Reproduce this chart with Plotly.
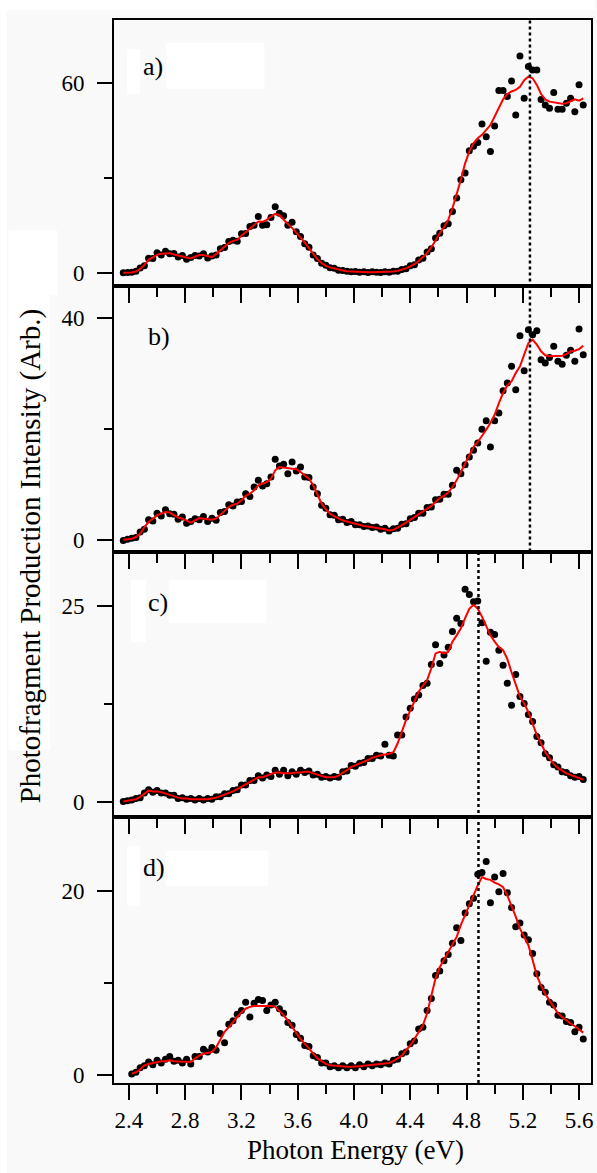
import plotly.graph_objects as go
from plotly.subplots import make_subplots

# ---------------- data ----------------
energy = [2.36, 2.39, 2.42, 2.45, 2.48, 2.51, 2.54, 2.57, 2.60, 2.63,
          2.66, 2.69, 2.72, 2.75, 2.78, 2.81, 2.84, 2.87, 2.90, 2.93,
          2.96, 2.99, 3.02, 3.05, 3.08, 3.11, 3.14, 3.17, 3.20, 3.23,
          3.26, 3.29, 3.32, 3.35, 3.38, 3.41, 3.44, 3.47, 3.50, 3.53,
          3.56, 3.59, 3.62, 3.65, 3.68, 3.71, 3.74, 3.77, 3.80, 3.83,
          3.86, 3.89, 3.92, 3.95, 3.98, 4.01, 4.04, 4.07, 4.10, 4.13,
          4.16, 4.19, 4.22, 4.25, 4.28, 4.31, 4.34, 4.37, 4.40, 4.43,
          4.46, 4.49, 4.52, 4.55, 4.58, 4.61, 4.64, 4.67, 4.70, 4.73,
          4.76, 4.79, 4.82, 4.85, 4.88, 4.91, 4.94, 4.97, 5.00, 5.03,
          5.06, 5.09, 5.12, 5.15, 5.18, 5.21, 5.24, 5.27, 5.30, 5.33,
          5.36, 5.39, 5.42, 5.45, 5.48, 5.51, 5.54, 5.57, 5.60, 5.63]

a_fit = [0.0, 0.0, 0.1, 0.4, 1.2, 2.5, 4.1, 4.9, 5.7, 6.0,
         6.2, 6.2, 5.8, 5.4, 5.1, 4.8, 4.5, 5.1, 5.6, 5.6,
         5.2, 4.9, 5.9, 7.1, 8.3, 9.4, 10.1, 10.4, 11.7, 12.9,
         14.0, 15.2, 16.2, 16.1, 16.7, 17.8, 18.6, 18.2, 16.7, 15.4,
         14.2, 12.7, 11.2, 9.6, 7.8, 5.9, 4.3, 3.1, 2.2, 1.7,
         1.3, 0.9, 0.7, 0.5, 0.4, 0.3, 0.3, 0.2, 0.2, 0.2,
         0.2, 0.2, 0.2, 0.3, 0.4, 0.6, 0.9, 1.4, 2.0, 2.7,
         3.7, 4.8, 6.2, 8.0, 10.4, 12.5, 14.4, 16.7, 20.4, 24.6,
         29.4, 34.6, 38.3, 40.9, 42.5, 43.6, 45.2, 46.7, 49.4, 52.3,
         54.8, 56.5, 57.3, 57.8, 58.8, 60.9, 62.0, 61.5, 59.4, 56.5,
         54.8, 54.1, 53.8, 53.6, 53.4, 53.6, 54.1, 54.8, 54.4, 55.1]
a_pts = [0.0, 0.1, 0.2, 0.5, 1.5, 2.2, 4.6, 4.5, 6.3, 5.6,
         6.8, 6.0, 6.1, 5.0, 5.5, 4.3, 4.8, 5.5, 5.3, 6.0,
         4.7, 5.3, 5.6, 7.6, 8.0, 9.9, 10.3, 10.0, 12.3, 12.4,
         14.6, 15.0, 17.8, 15.0, 15.2, 17.5, 20.9, 18.8, 18.0, 15.0,
         16.0, 13.0, 11.5, 9.2, 8.1, 5.6, 4.5, 3.0, 2.4, 1.6,
         1.4, 0.8, 0.7, 0.5, 0.3, 0.4, 0.2, 0.3, 0.1, 0.3,
         0.2, 0.1, 0.3, 0.2, 0.5, 0.5, 1.0, 1.3, 2.2, 2.5,
         4.0, 4.6, 6.6, 7.6, 11.0, 12.5, 14.9, 15.5, 19.4, 23.6,
         29.4, 31.5, 38.6, 40.0, 41.2, 47.0, 43.0, 38.3, 46.4, 57.6,
         57.6, 55.7, 60.6, 49.9, 68.5, 55.2, 65.2, 64.1, 64.1, 54.8,
         53.0, 52.0, 57.0, 51.7, 51.7, 53.6, 55.2, 50.9, 59.4, 53.0]

b_fit = [0.1, 0.2, 0.3, 0.6, 1.2, 2.4, 3.3, 3.9, 4.5, 4.8,
         5.1, 5.0, 4.5, 4.1, 3.9, 3.5, 3.2, 3.6, 4.0, 3.9,
         3.8, 3.7, 3.9, 4.6, 5.4, 6.0, 6.4, 6.6, 7.2, 8.0,
         8.4, 9.0, 9.9, 10.2, 10.5, 11.1, 12.6, 13.2, 13.1, 12.9,
         12.9, 12.8, 12.3, 11.7, 11.1, 9.9, 8.2, 6.6, 5.6, 4.8,
         4.3, 3.9, 3.6, 3.4, 3.2, 2.9, 2.7, 2.6, 2.5, 2.4,
         2.3, 2.1, 2.0, 1.8, 1.9, 2.3, 2.7, 3.2, 3.7, 4.2,
         4.6, 5.1, 5.6, 6.2, 6.9, 7.6, 8.0, 8.6, 9.6, 10.8,
         12.3, 13.8, 15.3, 16.8, 17.7, 18.7, 19.9, 21.1, 22.6, 24.7,
         26.5, 27.9, 28.6, 30.1, 31.3, 33.4, 35.5, 36.1, 35.2, 34.0,
         33.3, 33.1, 33.1, 33.1, 33.2, 33.5, 34.0, 34.1, 34.4, 35.0]
b_pts = [0.0, 0.2, 0.4, 0.5, 1.5, 2.0, 3.7, 3.5, 4.9, 4.4,
         5.5, 4.8, 4.7, 3.8, 4.2, 3.1, 3.4, 3.9, 3.7, 4.3,
         3.4, 4.0, 3.6, 5.0, 5.2, 6.4, 6.2, 6.9, 7.0, 8.4,
         7.9, 9.6, 10.8, 9.8, 10.2, 11.4, 14.6, 13.4, 13.7, 12.0,
         14.1, 12.5, 13.2, 11.4, 11.3, 9.6, 8.4, 6.3, 5.8, 4.6,
         4.5, 3.7, 3.8, 3.2, 3.4, 2.8, 2.8, 2.5, 2.6, 2.3,
         2.4, 2.0, 2.2, 1.7, 2.1, 2.2, 2.9, 3.0, 3.9, 4.1,
         4.9, 4.9, 5.9, 6.0, 7.3, 7.4, 8.3, 8.3, 9.9, 12.6,
         12.0, 13.6, 15.0, 16.2, 17.5, 20.0, 21.5, 16.8, 21.5, 22.9,
         26.9, 28.3, 31.3, 27.1, 36.8, 30.5, 37.9, 37.0, 37.7, 32.5,
         31.9, 32.9, 34.9, 32.2, 31.7, 33.3, 34.2, 32.2, 38.0, 33.4]

c_fit = [0.1, 0.2, 0.3, 0.4, 0.7, 1.1, 1.5, 1.4, 1.4, 1.3,
         1.1, 1.0, 0.8, 0.6, 0.5, 0.5, 0.4, 0.4, 0.4, 0.4,
         0.4, 0.5, 0.6, 0.8, 1.0, 1.2, 1.4, 1.7, 2.0, 2.3,
         2.6, 2.9, 3.2, 3.2, 3.4, 3.5, 3.8, 3.8, 3.7, 3.7,
         3.7, 3.8, 3.8, 3.9, 3.9, 3.7, 3.5, 3.4, 3.2, 3.2,
         3.2, 3.4, 3.7, 4.1, 4.5, 4.7, 4.9, 5.2, 5.4, 5.7,
         5.9, 6.0, 6.1, 6.2, 6.4, 7.5, 9.0, 10.5, 11.7, 13.0,
         14.1, 14.9, 15.6, 17.1, 19.0, 19.2, 19.0, 19.2, 20.5, 21.3,
         22.2, 23.5, 24.7, 25.2, 24.7, 23.7, 22.4, 21.3, 20.5, 19.8,
         19.4, 18.3, 16.6, 14.9, 13.5, 12.6, 11.5, 10.0, 8.6, 7.5,
         6.4, 5.6, 4.9, 4.4, 4.0, 3.7, 3.5, 3.3, 3.1, 2.9]
c_pts = [0.1, 0.2, 0.3, 0.5, 0.6, 1.2, 1.6, 1.3, 1.5, 1.2,
         1.2, 0.9, 0.9, 0.5, 0.6, 0.4, 0.5, 0.3, 0.5, 0.3,
         0.5, 0.4, 0.7, 0.7, 1.1, 1.1, 1.5, 1.6, 2.2, 2.2,
         2.8, 2.8, 3.4, 3.1, 3.5, 3.3, 4.1, 3.6, 4.1, 3.4,
         3.9, 3.6, 4.1, 3.8, 4.0, 3.5, 3.6, 3.2, 3.3, 3.1,
         3.3, 3.2, 3.9, 4.0, 4.7, 4.6, 5.0, 5.1, 5.6, 5.6,
         6.0, 5.9, 7.4, 6.0, 5.9, 8.6, 8.6, 10.9, 12.0, 13.2,
         13.7, 14.9, 15.2, 17.6, 20.1, 17.7, 18.8, 19.8, 21.8, 23.5,
         22.8, 27.2, 26.5, 25.6, 25.7, 22.9, 18.0, 21.7, 21.4, 19.4,
         17.5, 15.2, 12.4, 16.3, 13.5, 12.6, 11.2, 10.3, 8.4, 7.6,
         6.2, 5.7, 4.8, 4.5, 3.9, 3.8, 3.4, 3.2, 3.3, 2.9]

d_fit = [None, None, 0.15, 0.3, 0.6, 1.05, 1.2, 1.3, 1.4, 1.5,
         1.5, 1.6, 1.5, 1.45, 1.45, 1.45, 1.4, 1.8, 2.1, 2.3,
         2.4, 2.5, 3.0, 3.9, 4.7, 5.2, 5.8, 6.3, 6.8, 7.2,
         7.4, 7.5, 7.5, 7.5, 7.5, 7.5, 7.4, 7.0, 6.5, 5.9,
         5.2, 4.6, 3.9, 3.4, 2.9, 2.3, 1.8, 1.5, 1.2, 1.05,
         1.0, 0.95, 0.95, 0.9, 0.9, 0.9, 0.95, 1.0, 1.05, 1.1,
         1.1, 1.15, 1.2, 1.3, 1.5, 1.8, 2.1, 2.7, 3.2, 3.9,
         4.7, 5.4, 6.7, 8.5, 10.5, 11.7, 12.5, 13.3, 14.1, 15.0,
         16.3, 17.4, 18.4, 19.5, 20.6, 21.5, 21.3, 21.2, 20.9, 20.7,
         20.4, 19.5, 18.4, 17.2, 15.9, 15.0, 14.1, 12.5, 10.8, 9.7,
         8.8, 8.1, 7.4, 6.7, 6.3, 5.9, 5.6, 5.3, 4.9, 4.6]
d_pts = [None, None, 0.1, 0.3, 0.8, 1.0, 1.4, 1.1, 1.6, 1.3,
         1.7, 2.0, 1.5, 1.6, 1.3, 1.7, 1.2, 2.0, 2.0, 2.8,
         2.5, 3.0, 2.7, 4.5, 3.5, 5.5, 5.9, 6.6, 7.0, 7.9,
         6.3, 7.8, 8.2, 8.1, 7.0, 7.6, 7.9, 7.2, 6.7, 5.7,
         5.4, 4.4, 4.0, 3.2, 3.1, 2.1, 1.9, 1.3, 1.3, 0.9,
         1.0, 0.8, 1.0, 0.8, 1.0, 0.8, 1.1, 0.9, 1.2, 1.0,
         1.2, 1.1, 1.3, 1.2, 1.6, 1.7, 2.3, 2.5, 3.4, 3.7,
         5.0, 5.2, 7.0, 8.3, 10.8, 11.3, 12.4, 13.1, 14.3, 16.0,
         14.6, 17.6, 18.6, 19.2, 21.8, 22.0, 23.2, 18.7, 21.5, 19.9,
         21.9, 19.8, 18.2, 16.1, 16.5, 15.2, 14.7, 13.2, 11.0, 9.5,
         9.0, 7.9, 7.6, 6.5, 6.4, 5.8, 5.7, 4.7, 5.2, 3.9]

panel_labels = ["a)", "b)", "c)", "d)"]
y_ranges = [[-4.1, 79.9], [-2.0, 45.8], [-1.9, 32.0], [-0.87, 28.0]]
y_major = [60, 40, 25, 20]
x_range = [2.294, 5.685]
peak_ab = 5.251   # dotted marker, panels a-b
peak_cd = 4.885   # dotted marker, panels c-d

# ---------------- figure ----------------
W, H = 597, 1173
L, R, T, B = 114, 4, 20, 90
PW, PH = W - L - R, H - T - B
FONT = "Liberation Serif"
GRAY = "#f9f9f9"

fig = make_subplots(rows=4, cols=1, vertical_spacing=0)

series = [(a_pts, a_fit), (b_pts, b_fit), (c_pts, c_fit), (d_pts, d_fit)]
for i, (pts, fit) in enumerate(series, start=1):
    fig.add_trace(go.Scatter(x=energy, y=pts, mode="markers",
                             marker=dict(color="black", size=7),
                             showlegend=False), row=i, col=1)
    fig.add_trace(go.Scatter(x=energy, y=fit, mode="lines",
                             line=dict(color="#ff0000", width=2),
                             showlegend=False), row=i, col=1)

for i in range(1, 5):
    fig.update_xaxes(row=i, col=1, range=x_range, showline=True, mirror=True,
                     linecolor="black", linewidth=2, showgrid=False, zeroline=False,
                     ticks="outside", ticklen=15, tickwidth=2, tickcolor="black",
                     tick0=2.4, dtick=0.4, tickformat=".1f",
                     minor=dict(dtick=0.2, tick0=2.4, ticks="outside", ticklen=9,
                                tickwidth=2, tickcolor="black"),
                     showticklabels=(i == 4),
                     tickfont=dict(family=FONT, size=23, color="black"))
    fig.update_yaxes(row=i, col=1, range=y_ranges[i - 1], showline=True, mirror=True,
                     linecolor="black", linewidth=2, showgrid=False, zeroline=False,
                     ticks="outside", ticklen=15, tickwidth=2, tickcolor="black",
                     tick0=0, dtick=y_major[i - 1],
                     minor=dict(dtick=y_major[i - 1] / 2, tick0=0, ticks="outside",
                                ticklen=8, tickwidth=2, tickcolor="black"),
                     tickfont=dict(family=FONT, size=23, color="black"),
                     ticklabelstandoff=8)


def px_rect(x0, y0, x1, y1, color="white"):
    return dict(type="rect", xref="paper", yref="paper",
                x0=(x0 - L) / PW, x1=(x1 - L) / PW,
                y0=(H - B - y1) / PH, y1=(H - B - y0) / PH,
                fillcolor=color, line=dict(width=0), layer="below")


shapes = [
    px_rect(0, 0, W, 10), px_rect(0, 0, 6, H),
    px_rect(8, 230, 57, 295), px_rect(8, 295, 50, 750),
    px_rect(166, 43, 265, 89), px_rect(127, 49, 140, 94),
    px_rect(169, 580, 267, 623), px_rect(131, 580, 146, 642),
    px_rect(166, 851, 269, 886), px_rect(127, 846, 140, 906),
]
shapes.append(dict(type="line", xref="x", yref="paper", x0=peak_ab, x1=peak_ab,
                   y0=0.5, y1=1.0, line=dict(color="black", width=2.5, dash="dot"),
                   layer="above"))
shapes.append(dict(type="line", xref="x", yref="paper", x0=peak_cd, x1=peak_cd,
                   y0=0.0, y1=0.5, line=dict(color="black", width=2.5, dash="dot"),
                   layer="above"))

label_pos = [(141, 67), (146, 336), (146, 602), (141, 867)]
annotations = []
for lab, (lx, ly) in zip(panel_labels, label_pos):
    annotations.append(dict(text=lab, xref="paper", yref="paper",
                            x=(lx - L) / PW, y=(H - B - ly) / PH,
                            xanchor="left", yanchor="middle", showarrow=False,
                            font=dict(family=FONT, size=26, color="black")))
annotations.append(dict(text="Photon Energy (eV)", xref="paper", yref="paper",
                        x=(357 - L) / PW, y=(H - B - 1150) / PH,
                        xanchor="center", yanchor="middle", showarrow=False,
                        font=dict(family=FONT, size=27, color="black")))
annotations.append(dict(text="Photofragment Production Intensity (Arb.)",
                        xref="paper", yref="paper",
                        x=(30 - L) / PW, y=(H - B - 556) / PH, textangle=-90,
                        xanchor="center", yanchor="middle", showarrow=False,
                        font=dict(family=FONT, size=29, color="black")))

fig.update_layout(width=W, height=H, margin=dict(l=L, r=R, t=T, b=B),
                  paper_bgcolor=GRAY, plot_bgcolor=GRAY, showlegend=False,
                  font=dict(family=FONT, color="black"),
                  shapes=shapes, annotations=annotations)

fig.write_html("out.html", config={"displayModeBar": False},
               post_script="document.body.style.margin='0px';"
                           "document.body.style.overflow='hidden';")
